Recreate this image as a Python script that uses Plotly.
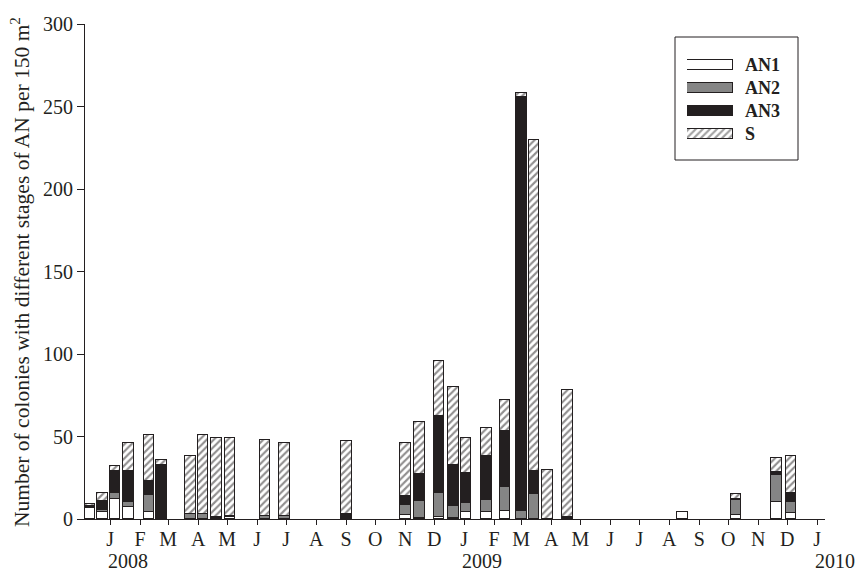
import plotly.graph_objects as go

# Sampling dates and colony counts for each stage of AN (per 150 m2)
dates = [
    "2007-12-11", "2007-12-24", "2008-01-06", "2008-01-20", "2008-02-10", "2008-02-23",
    "2008-03-24", "2008-04-06", "2008-04-20", "2008-05-04", "2008-06-09", "2008-06-29",
    "2008-09-01", "2008-11-01", "2008-11-16", "2008-12-06", "2008-12-21", "2009-01-03",
    "2009-01-24", "2009-02-12", "2009-03-01", "2009-03-14", "2009-03-28", "2009-04-18",
    "2009-08-15", "2009-10-09", "2009-11-20", "2009-12-05",
]
an1 = [6.5, 4, 12, 7, 4, 0, 0, 0, 0, 1, 0, 0, 0, 2.5, 0.5, 1.5, 0.5, 4, 4.5, 5, 0, 0, 0, 0, 4, 2.5, 10.5, 3.5]
an2 = [0, 1.5, 4, 3.5, 10.5, 0, 3, 3, 0, 0, 2, 2, 0, 6, 10.5, 14, 7.5, 5.5, 7, 14.5, 5, 15, 0, 0, 0, 9, 16, 7]
an3 = [1.5, 5.5, 13, 18.5, 8.5, 33, 0, 0, 1, 1, 0, 0, 3, 5.5, 16.5, 47, 24.5, 18.5, 26.5, 34, 251, 14, 0, 1, 0, 0.5, 2, 5.5]
s = [1, 5, 3, 17, 28, 3, 35, 48, 48, 47, 46, 44, 44, 32, 31.5, 33.5, 47.5, 21, 17, 18.5, 2, 201, 30, 77, 0, 3, 8.5, 22]

series_names = ["AN1", "AN2", "AN3", "S"]
series_values = [an1, an2, an3, s]

month_letters = ["J", "F", "M", "A", "M", "J", "J", "A", "S", "O", "N", "D"]
tick_dates = []
tick_text = []
for year in (2008, 2009):
    for m in range(1, 13):
        tick_dates.append(f"{year}-{m:02d}-01")
        tick_text.append(month_letters[m - 1])
tick_dates.append("2010-01-01")
tick_text.append("J")
years = ["2008", "2009", "2010"]

INK = "#231f20"
GREY = "#858585"
HATCH = dict(shape="/", fgcolor=INK, bgcolor="white", size=5, solidity=0.42, fillmode="overlay")
styles = {
    "AN1": dict(color="white", shape=""),
    "AN2": dict(color=GREY, shape=""),
    "AN3": dict(color=INK, shape=""),
    "S": dict(color="white", shape="/"),
}

DAY_MS = 86400000
fig = go.Figure()
for name, vals in zip(series_names, series_values):
    st = styles[name]
    pattern = HATCH if st["shape"] else dict(shape="")
    fig.add_trace(go.Bar(
        x=dates,
        y=[v if v > 0 else None for v in vals],
        name=name,
        width=11 * DAY_MS,
        marker=dict(color=st["color"], pattern=pattern,
                    line=dict(color=INK, width=1)),
        showlegend=False,
    ))

# Legend drawn on a small inset axis: one swatch bar per stage
legend_rows = list(range(len(series_names)))[::-1]
fig.add_trace(go.Bar(
    x=[1] * len(series_names),
    y=legend_rows,
    orientation="h",
    width=0.43,
    marker=dict(
        color=[styles[n]["color"] for n in series_names],
        pattern=dict(HATCH, shape=[styles[n]["shape"] for n in series_names]),
        line=dict(color=INK, width=1),
    ),
    xaxis="x2", yaxis="y2",
    showlegend=False,
    hoverinfo="skip",
))

L, R, T, B = 85, 30, 24, 52
W, H = 855, 571
pw, ph = W - L - R, H - T - B


def px_x(px):
    return (px - L) / pw


def px_y(py):
    return (H - B - py) / ph


serif = "Liberation Serif, Times New Roman, serif"

fig.update_layout(
    width=W, height=H,
    margin=dict(l=L, r=R, t=T, b=B),
    paper_bgcolor="white", plot_bgcolor="white",
    barmode="stack", bargap=0,
    font=dict(family=serif, size=20, color=INK),
    xaxis=dict(
        type="date",
        range=["2007-12-06", "2010-01-09"],
        tickmode="array", tickvals=tick_dates, ticktext=tick_text,
        ticks="outside", ticklen=5, tickcolor=INK, tickwidth=1,
        ticklabelstandoff=-3,
        showline=True, linecolor=INK, linewidth=1,
        showgrid=False, zeroline=False,
        tickfont=dict(family=serif, size=20, color=INK),
    ),
    yaxis=dict(
        range=[0, 300],
        tickmode="array", tickvals=[0, 50, 100, 150, 200, 250, 300],
        ticks="outside", ticklen=7, tickcolor=INK, tickwidth=1,
        showline=True, linecolor=INK, linewidth=1,
        showgrid=False, zeroline=False,
        tickfont=dict(family=serif, size=20, color=INK),
    ),
    xaxis2=dict(domain=[px_x(687), px_x(733)], range=[0, 1], anchor="y2",
                visible=False, fixedrange=True),
    yaxis2=dict(domain=[px_y(146), px_y(53)], range=[-0.5, 3.5], anchor="x2",
                visible=False, fixedrange=True),
    shapes=[dict(type="rect", xref="paper", yref="paper",
                 x0=px_x(675), x1=px_x(798), y0=px_y(160), y1=px_y(37),
                 line=dict(color=INK, width=1), fillcolor="rgba(0,0,0,0)")],
)

annotations = []
for name, row in zip(series_names, legend_rows):
    annotations.append(dict(
        text=f"<b>{name}</b>", xref="paper", yref="y2", x=px_x(743), y=row,
        xanchor="left", yanchor="middle", showarrow=False,
        font=dict(family=serif, size=18, color=INK),
    ))
for yr in years:
    annotations.append(dict(
        text=yr, xref="x", yref="paper", x=f"{yr}-01-01", y=px_y(561),
        xanchor="left", yanchor="middle", xshift=-4, showarrow=False,
        font=dict(family=serif, size=20, color=INK),
    ))
annotations.append(dict(
    text="Number of colonies with different stages of AN per 150 m<sup>2</sup>",
    xref="paper", yref="paper", x=px_x(20), y=px_y(272),
    xanchor="center", yanchor="middle", textangle=-90, showarrow=False,
    font=dict(family=serif, size=21.5, color=INK),
))
fig.update_layout(annotations=annotations)

fig.write_html("out.html")
